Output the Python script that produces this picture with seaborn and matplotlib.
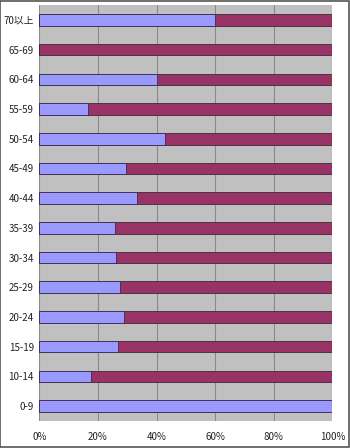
import matplotlib
matplotlib.use('Agg')
import matplotlib.pyplot as plt
import numpy as np
import pandas as pd
import seaborn as sns
from matplotlib.patches import Rectangle

# age groups, top to bottom
AGE_GROUPS = ['70以上', '65-69', '60-64', '55-59', '50-54', '45-49', '40-44',
              '35-39', '30-34', '25-29', '20-24', '15-19', '10-14', '0-9']
# share of the first (blue) series, the rest is the second (maroon) series
BLUE_SHARE = [0.60, 0.0, 0.40, 0.167, 0.428, 0.297, 0.333,
              0.258, 0.262, 0.274, 0.290, 0.267, 0.175, 1.0]
MAROON_SHARE = [1 - v for v in BLUE_SHARE]
X_TICKS = [0, 0.2, 0.4, 0.6, 0.8, 1.0]
X_TICK_LABELS = ['0%', '20%', '40%', '60%', '80%', '100%']

BLUE = '#9999FF'
MAROON = '#993366'

sns.set_style('white')
plt.rcParams['font.family'] = ['Noto Sans CJK JP', 'DejaVu Sans']

df = pd.DataFrame({'age': AGE_GROUPS, 'blue': BLUE_SHARE, 'maroon': MAROON_SHARE})
df['total'] = df['blue'] + df['maroon']

fig = plt.figure(figsize=(3.5, 4.48), dpi=100)
ax = fig.add_axes([0.1123, 0.0603, 0.8372, 0.9285])
ax.set_facecolor('#C0C0C0')

# stacked: full length in maroon, blue part drawn over it
sns.barplot(data=df, x='total', y='age', order=AGE_GROUPS, color=MAROON, saturation=1,
            width=0.39, edgecolor='#3a2a3a', linewidth=0.6, ax=ax)
sns.barplot(data=df, x='blue', y='age', order=AGE_GROUPS, color=BLUE, saturation=1,
            width=0.39, edgecolor='#3a2a4a', linewidth=0.6, ax=ax)

ax.set_xlim(0, 1)
ax.set_ylim(len(AGE_GROUPS) - 0.5, -0.5)
ax.set_xticks(X_TICKS)
ax.set_xticklabels(X_TICK_LABELS, fontsize=7, color='#222222')
ax.tick_params(axis='y', labelsize=7, length=0, pad=4, labelcolor='#222222')
ax.tick_params(axis='x', length=0, pad=8)
ax.set_yticks(np.arange(len(AGE_GROUPS)) + 0.5, minor=True)
ax.tick_params(axis='y', which='minor', direction='in', length=2, color='#999999')
ax.xaxis.grid(True, color='#8a8a8a', linewidth=0.8)
ax.set_axisbelow(True)
for s in ax.spines.values():
    s.set_visible(False)
ax.set_xlabel('')
ax.set_ylabel('')

# outer chart border
fig.patches.append(Rectangle((0.001, 0.002), 0.996, 0.996, transform=fig.transFigure,
                             fill=False, edgecolor='#555555', linewidth=1.2))

fig.savefig('out.png', dpi=100)
